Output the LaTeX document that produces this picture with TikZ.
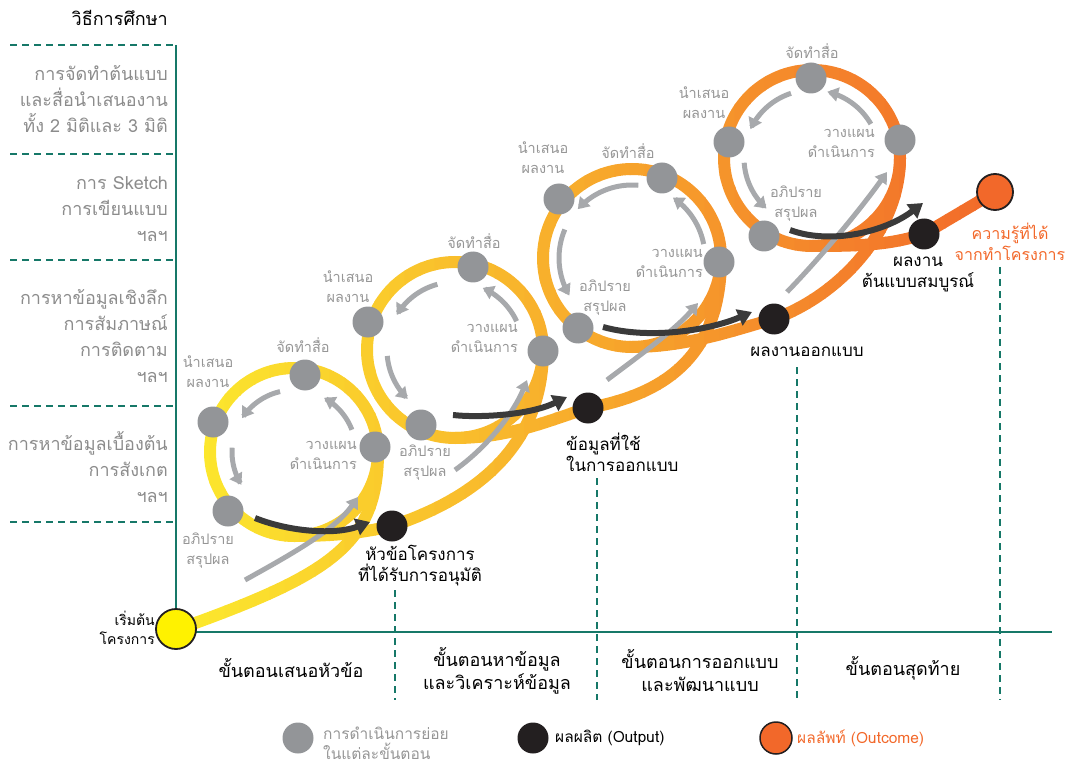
\documentclass[tikz,border=0pt]{standalone}
\usepackage{fontspec}
\setmainfont[Script=Thai]{Loma}
\usetikzlibrary{arrows.meta}
\definecolor{teal1}{RGB}{22,120,104}
\definecolor{roadA}{RGB}{252,232,45}
\definecolor{roadB}{RGB}{242,104,42}
\definecolor{dotgray}{RGB}{147,149,152}
\definecolor{arrgray}{RGB}{167,169,172}
\definecolor{darkarr}{RGB}{58,58,58}
\definecolor{dotblack}{RGB}{35,31,32}
\definecolor{labgray}{RGB}{150,150,150}
\definecolor{leftgray}{RGB}{140,140,140}
\definecolor{outorange}{RGB}{242,104,42}
\definecolor{startyel}{RGB}{255,242,0}
\colorlet{roadcol}{roadA}
\newcommand\fsS{\fontsize{14.5}{20}\selectfont}
\newcommand\fsM{\fontsize{17}{21}\selectfont}
\newcommand\fsO{\fontsize{16}{21}\selectfont}
\newcommand\fsL{\fontsize{18}{26}\selectfont}
\newcommand\fsP{\fontsize{18}{23}\selectfont}
\newcommand\fsT{\fontsize{14}{19}\selectfont}
\newcommand\fsG{\fontsize{15.5}{20}\selectfont}
\tikzset{
 axisline/.style={draw=teal1, line width=2.5pt},
 tdash/.style={draw=teal1, line width=2pt, dash pattern=on 7pt off 5pt},
 road/.style={draw=roadcol, line width=12pt},
 gdot/.style={circle, fill=dotgray, minimum size=31pt, inner sep=0pt},
 bdot/.style={circle, fill=dotblack, minimum size=31pt, inner sep=0pt},
 glab/.style={text=labgray, font=\fsS, align=center, inner sep=0pt},
 grlab/.style={text=labgray, font=\fsS, align=right, anchor=east, inner sep=0pt},
 llab/.style={text=leftgray, font=\fsL, align=right, anchor=east, inner sep=0pt},
 phase/.style={font=\fsP, align=center, inner sep=0pt},
 olab/.style={font=\fsM, align=center, inner sep=0pt},
 garrow/.style={draw=arrgray, line width=5pt, -{Triangle[length=11pt,width=14pt]}},
 darrow/.style={draw=darkarr, line width=6pt, -{Triangle[length=14pt,width=17pt]}},
}
\newcommand\roadpath{%
 \draw[road] (294,452) circle[radius=84];
 \draw[road] (455,350) circle[radius=88];
 \draw[road] (632,258) circle[radius=89];
 \draw[road] (812,158) circle[radius=88];
 \draw[road] (176,630) .. controls (330,575) and (378,545) .. (378,452);
 \draw[road] (294,536) .. controls (340,536) and (365,532) .. (392,526) .. controls (470,500) and (543,450) .. (543,350);
 \draw[road] (455,438) .. controls (510,438) and (550,420) .. (588,408) .. controls (660,395) and (721,360) .. (721,258);
 \draw[road] (632,347) .. controls (690,347) and (740,328) .. (774,319) .. controls (840,295) and (900,230) .. (900,158);
 \draw[road] (812,246) .. controls (860,246) and (890,245) .. (924,234) -- (995,192);
}
\newcommand\looparrows[9]{%
 \draw[garrow] plot[domain=#4:#5,samples=20] ({#1+#3*cos(\x)},{#2-#3*sin(\x)});
 \draw[garrow] plot[domain=#6:#7,samples=20] ({#1+#3*cos(\x)},{#2-#3*sin(\x)});
 \draw[garrow] plot[domain=#8:#9,samples=20] ({#1+#3*cos(\x)},{#2-#3*sin(\x)});
}
\begin{document}
\begin{tikzpicture}[x=1pt,y=-1pt]
\useasboundingbox (0,0) rectangle (1065,767);
% axes and guides
\draw[axisline] (176,45) -- (176,632) -- (1052,632);
\foreach \yy in {45,154,260,406,522} \draw[tdash] (10,\yy) -- (174,\yy);
\draw[tdash] (395,590) -- (395,700);
\draw[tdash] (597,478) -- (597,700);
\draw[tdash] (797,367) -- (797,700);
\draw[tdash] (1000,267) -- (1000,700);
% road with horizontal gradient
\foreach \i in {0,...,62} {
  \pgfmathsetmacro\xa{150+15*\i}
  \pgfmathtruncatemacro\rt{max(0,min(100,(\xa+7.5-190)/810*100))}
  \colorlet{roadcol}{roadB!\rt!roadA}
  \begin{scope}
    \clip (\xa-0.5,0) rectangle (\xa+15.5,767);
    \roadpath
  \end{scope}
}
% inner loop arrows
\looparrows{294}{452}{62}{103}{147}{176}{212}{21}{61}
\looparrows{455}{350}{68}{105}{149}{185}{226}{25}{66}
\looparrows{632}{258}{73}{85}{138}{157}{211}{11}{56}
\looparrows{812}{158}{68}{108}{155}{184}{228}{30}{77}
% long gray arrows
\draw[garrow] (245,580) .. controls (290,555) and (335,530) .. (358,497);
\draw[garrow] (455,470) .. controls (490,445) and (515,410) .. (527,380);
\draw[garrow] (607,380) .. controls (640,355) and (675,330) .. (698,303);
\draw[garrow] (787,292) .. controls (820,258) and (860,210) .. (887,172);
% dark arrows
\draw[darrow] (255,518) .. controls (290,532) and (335,535) .. (370,522);
\draw[darrow] (453,415) .. controls (480,418) and (530,415) .. (567,397);
\draw[darrow] (603,327) .. controls (650,340) and (710,330) .. (752,312);
\draw[darrow] (790,230) .. controls (830,245) and (885,232) .. (923,203);
% gray activity dots
\node[gdot] (a1t) at (305,375) {};
\node[gdot] (a1l) at (213,422) {};
\node[gdot] (a1b) at (228,511) {};
\node[gdot] (a1r) at (375,447) {};
\node[gdot] (a2t) at (473,267) {};
\node[gdot] (a2l) at (368,322) {};
\node[gdot] (a2b) at (421,425) {};
\node[gdot] (a2r) at (543,351) {};
\node[gdot] (a3t) at (662,178) {};
\node[gdot] (a3l) at (559,199) {};
\node[gdot] (a3b) at (578,328) {};
\node[gdot] (a3r) at (719,262) {};
\node[gdot] (a4t) at (811,78) {};
\node[gdot] (a4l) at (729,142) {};
\node[gdot] (a4b) at (764,236) {};
\node[gdot] (a4r) at (900,140) {};
% gray labels
\node[glab] (t1t) at (303,345) {จัดทำสื่อ};
\node[glab] (t1l) at (208,372) {นำเสนอ\\ผลงาน};
\node[glab] (t1b) at (208,551) {อภิปราย\\สรุปผล};
\node[grlab] (t1r) at (357,455) {วางแผน\\ดำเนินการ};
\node[glab] (t2t) at (474,241) {จัดทำสื่อ};
\node[glab] (t2l) at (348,287) {นำเสนอ\\ผลงาน};
\node[glab] (t2b) at (425,463) {อภิปราย\\สรุปผล};
\node[grlab] (t2r) at (518,338) {วางแผน\\ดำเนินการ};
\node[glab] (t3t) at (628,151) {จัดทำสื่อ};
\node[glab] (t3l) at (543,158) {นำเสนอ\\ผลงาน};
\node[glab] (t3b) at (605,298) {อภิปราย\\สรุปผล};
\node[grlab] (t3r) at (703,263) {วางแผน\\ดำเนินการ};
\node[glab] (t4t) at (812,51) {จัดทำสื่อ};
\node[glab] (t4l) at (704,103) {นำเสนอ\\ผลงาน};
\node[glab] (t4b) at (796,204) {อภิปราย\\สรุปผล};
\node[grlab] (t4r) at (875,143) {วางแผน\\ดำเนินการ};
% outputs
\node[bdot] (o1) at (392,526) {};
\node[bdot] (o2) at (588,408) {};
\node[bdot] (o3) at (774,319) {};
\node[bdot] (o4) at (924,234) {};
\node[circle, fill=outorange, draw=dotblack, line width=1.8pt, minimum size=36pt, inner sep=0pt] (outc) at (995,192) {};
\node[circle, fill=startyel, draw=dotblack, line width=1.8pt, minimum size=40pt, inner sep=0pt] (start) at (176,629) {};
\node[olab] (ol1) at (420,566) {หัวข้อโครงการ\\ที่ได้รับการอนุมัติ};
\node[olab, align=left, anchor=west] (ol2) at (566,452) {ข้อมูลที่ใช้\\ในการออกแบบ};
\node[olab] (ol3) at (807,352) {ผลงานออกแบบ};
\node[olab] (ol4) at (918,274) {ผลงาน\\ต้นแบบสมบูรณ์};
\node[olab, font=\fsO, text=outorange] (olc) at (1010,242) {ความรู้ที่ได้\\จากทำโครงการ};
\node[font=\fsT, align=right, anchor=east, inner sep=0pt] (stl) at (155,628) {เริ่มต้น\\โครงการ};
% left axis
\node[font=\fsL, anchor=east, inner sep=0pt] (ttl) at (168,18) {วิธีการศึกษา};
\node[llab] (m1) at (168,99) {การจัดทำต้นแบบ\\และสื่อนำเสนองาน\\ทั้ง 2 มิติและ 3 มิติ};
\node[llab] (m2) at (168,209) {การ Sketch\\การเขียนแบบ\\ฯลฯ};
\node[llab] (m3) at (168,336) {การหาข้อมูลเชิงลึก\\การสัมภาษณ์\\การติดตาม\\ฯลฯ};
\node[llab] (m4) at (168,467) {การหาข้อมูลเบื้องต้น\\การสังเกต\\ฯลฯ};
% phases
\node[phase] (p1) at (291,668) {ขั้นตอนเสนอหัวข้อ};
\node[phase] (p2) at (497,671) {ขั้นตอนหาข้อมูล\\และวิเคราะห์ข้อมูล};
\node[phase] (p3) at (700,671) {ขั้นตอนการออกแบบ\\และพัฒนาแบบ};
\node[phase] (p4) at (903,668) {ขั้นตอนสุดท้าย};
% legend
\node[gdot] (lg1) at (298,738) {};
\node[font=\fsG, text=labgray, align=left, anchor=west, inner sep=0pt] (lt1) at (323,743) {การดำเนินการย่อย\\ในแต่ละขั้นตอน};
\node[bdot] (lg2) at (533,738) {};
\node[font=\fsG, anchor=west, inner sep=0pt] (lt2) at (555,738) {ผลผลิต (Output)};
\node[circle, fill=outorange, draw=dotblack, line width=1.5pt, minimum size=32pt, inner sep=0pt] (lg3) at (776,738) {};
\node[font=\fsG, text=outorange, anchor=west, inner sep=0pt] (lt3) at (797,738) {ผลลัพท์ (Outcome)};
\end{tikzpicture}
\end{document}
